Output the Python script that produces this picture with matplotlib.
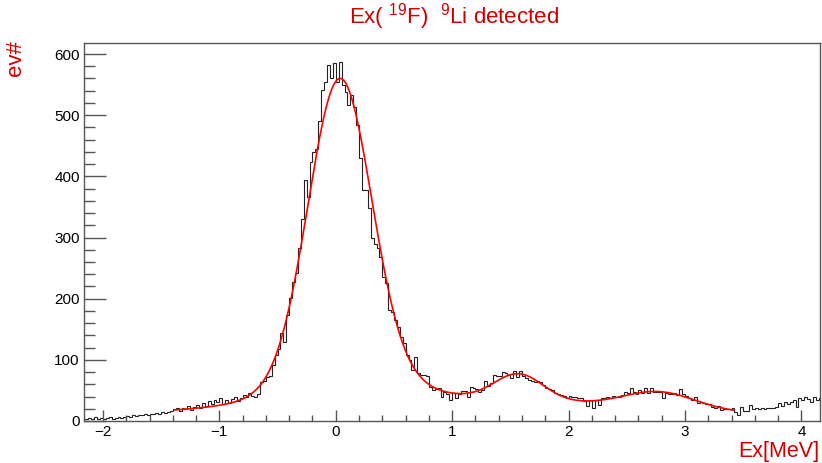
import numpy as np
import matplotlib
matplotlib.use("Agg")
import matplotlib.pyplot as plt
from matplotlib.ticker import MultipleLocator

plt.rcParams['font.family'] = ['Liberation Sans', 'DejaVu Sans']
plt.rcParams['mathtext.fontset'] = 'custom'
plt.rcParams['mathtext.rm'] = 'Liberation Sans'
plt.rcParams['mathtext.it'] = 'Liberation Sans'
plt.rcParams['mathtext.default'] = 'regular'

# ---- data -------------------------------------------------------------
bin_start = -2.175
bin_width = 0.025

counts_tail = [4, 3, 5, 4, 6, 3, 5, 4, 5, 6, 4, 5, 7, 5, 6, 8, 7, 9, 8, 10,
               9, 11, 10, 12, 11, 13, 12, 14, 13, 15, 16]
counts_low = [19, 21, 17, 22, 20, 24, 18, 23, 26, 22, 30, 25, 33, 28, 35, 31,
              38, 27, 34, 29, 36, 40, 33, 37, 42, 39, 45, 41]
counts_rise = [40, 44, 64, 66, 72, 74, 91, 108, 118, 144, 129, 173, 201, 228,
               242, 283, 330, 394, 366, 424, 440, 444]
counts_peak = [490, 541, 554, 582, 560, 585, 555, 587, 550, 538, 516, 533, 514,
               484, 430, 377, 377, 348, 299, 290, 283, 268]
counts_fall = [235, 225, 181, 178, 165, 154, 137, 128, 108, 100, 83, 105, 78,
               76, 75, 74, 56, 50, 52, 54, 40, 47, 44, 34]
counts_mid = [45, 38, 44, 49, 49, 40, 55, 54, 52, 48,
              50, 65, 58, 62, 75, 74, 73, 80, 78, 76,
              70, 82, 72, 82, 74, 70, 67, 66, 63, 66,
              64, 59, 54, 52, 50, 46, 44, 42, 41, 38,
              41, 39, 40, 37, 38, 33, 24, 34, 21, 35,
              26, 38, 37, 39, 37, 41, 40, 39, 43, 47,
              45, 54, 48, 44]
counts_high = [50, 45, 54, 46, 54, 48, 47, 48, 38, 46, 44, 44, 45, 43, 52, 44,
               41, 38, 35, 40, 29, 31, 29, 27, 27, 23, 21, 24, 18, 20, 19, 20,
               22, 15, 10, 23, 16, 17, 26, 19, 21, 20, 21, 20, 21, 22, 21, 23,
               29, 25, 31, 27, 31, 34, 23, 38, 34, 40, 36, 31, 40, 35, 38, 36]

# fit function: sum of gaussian components (amplitude, mean, sigma)
fit_amp = [488, 40, 36, 43, 26]
fit_mean = [0.035, 0.1, 0.9, 1.57, 2.78]
fit_sigma = [0.27, 0.5, 1.9, 0.21, 0.30]
fit_range = [-1.38, 3.42]

title = r"Ex( $^{19}$F)  $^{9}$Li detected"
xlabel = "Ex[MeV]"
ylabel = "ev#"

# ---- plot -------------------------------------------------------------
counts = np.array(counts_tail + counts_low + counts_rise + counts_peak +
                  counts_fall + counts_mid + counts_high, dtype=float)
edges = bin_start + bin_width * np.arange(len(counts) + 1)

fig = plt.figure(figsize=(8.22, 4.63), dpi=100)
ax = fig.add_axes([84 / 822, 42 / 463, 736 / 822, 378 / 463])

ax.stairs(counts, edges, color='#222222', lw=0.8)

xf = np.linspace(fit_range[0], fit_range[1], 600)
yf = np.zeros_like(xf)
for a, m, s in zip(fit_amp, fit_mean, fit_sigma):
    yf += a * np.exp(-0.5 * ((xf - m) / s) ** 2)
ax.plot(xf, yf, color='#ff0000', lw=1.2)

ax.set_xlim(-2.163, 4.16)
ax.set_ylim(0, 618)

ax.xaxis.set_major_locator(MultipleLocator(1))
ax.xaxis.set_minor_locator(MultipleLocator(0.2))
ax.yaxis.set_major_locator(MultipleLocator(100))
ax.yaxis.set_minor_locator(MultipleLocator(20))

ax.tick_params(axis='both', which='both', direction='in', colors='#555555',
               labelcolor='black', top=False, right=False, labelsize=11)
ax.tick_params(axis='x', which='major', length=8, width=1, pad=3)
ax.tick_params(axis='x', which='minor', length=4, width=1)
ax.tick_params(axis='y', which='major', length=16, width=1, pad=3)
ax.tick_params(axis='y', which='minor', length=8, width=1)

for sp in ax.spines.values():
    sp.set_color('#555555')
    sp.set_linewidth(1)

red = '#d00000'
fig.text(454 / 822, 1 - 17 / 463, title, color=red, fontsize=16,
         ha='center', va='center')
fig.text(0.997, 1 - 457 / 463, xlabel, color=red, fontsize=15.5,
         ha='right', va='baseline')
fig.text(16 / 822, 1 - 40 / 463, ylabel, color=red, fontsize=16,
         rotation=90, ha='center', va='top')

fig.savefig('out.png', dpi=100)
